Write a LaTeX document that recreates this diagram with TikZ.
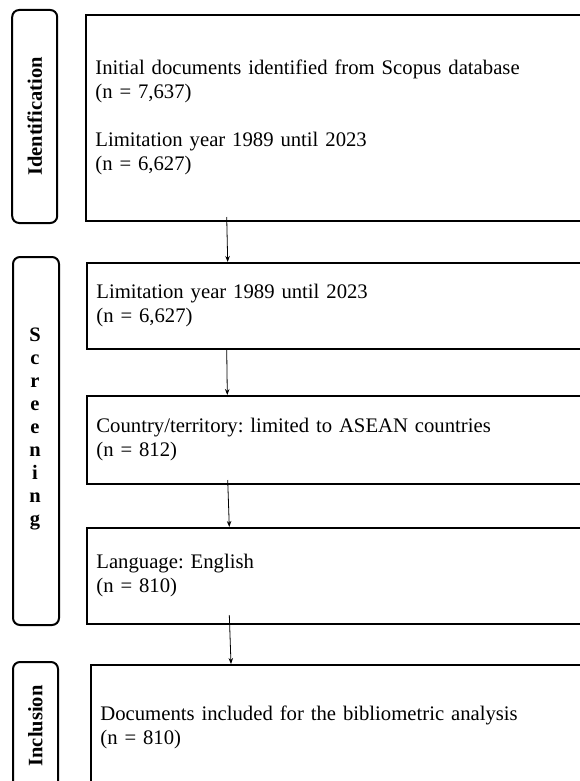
\documentclass[tikz,border=0pt]{standalone}
\usepackage{fontspec}
\setmainfont{Liberation Serif}
\usetikzlibrary{arrows.meta}
\frenchspacing
\begin{document}
\begin{tikzpicture}[x=1pt,y=-1pt,
  box/.style={draw, line width=1.8pt, anchor=north west, inner xsep=9.5pt, inner ysep=0pt,
    align=left, font=\fontsize{20.7}{24}\selectfont},
  phase/.style={draw, line width=2pt, rounded corners=7pt, inner sep=0pt},
  plab/.style={font=\fontsize{20.5}{23}\selectfont\bfseries},
  arr/.style={-{Stealth[length=6pt,width=4.5pt]}, line width=0.8pt}]
\useasboundingbox (0,0) rectangle (580,781);
\clip (0,0) rectangle (580,781);

% phase labels
\node[phase, plab, rotate=90, minimum width=213pt, minimum height=45pt] (p1) at (34.7,116.5) {Identification};
\node[phase, minimum width=46pt, minimum height=368pt, anchor=north west] (p2) at (12,256) {};
\node[plab, align=center, inner sep=0pt] (p2t) at (35,428.5) {S\\c\\r\\e\\e\\n\\i\\n\\g};
\node[phase, plab, rotate=90, minimum width=128pt, minimum height=45pt] (p3) at (35.5,726) {Inclusion};

% boxes
\node[box, minimum width=520pt, text width=501pt, minimum height=206pt] (b1) at (85,14)
  {Initial documents identified from Scopus database\\(n = 7,637)\\[24pt]Limitation year 1989 until 2023\\(n = 6,627)};
\node[box, minimum width=519pt, text width=500pt, minimum height=86pt] (b2) at (86,262)
  {Limitation year 1989 until 2023\\(n = 6,627)};
\node[box, minimum width=519pt, text width=500pt, minimum height=88pt] (b3) at (86,395)
  {Country/territory: limited to ASEAN countries\\(n = 812)};
\node[box, minimum width=519pt, text width=500pt, minimum height=96pt] (b4) at (86,527)
  {Language: English\\(n = 810)};
\node[box, minimum width=515pt, text width=496pt, minimum height=126pt] (b5) at (90,664)
  {Documents included for the bibliometric analysis\\(n = 810)};

% connectors
\coordinate (s1) at (226.7,217);
\coordinate (s2) at (226.7,349);
\coordinate (s3) at (227.7,480);
\coordinate (s4) at (229.3,615);
\draw[arr] (s1) -- ([xshift=141.7pt]b2.north west);
\draw[arr] (s2) -- ([xshift=141.3pt]b3.north west);
\draw[arr] (s3) -- ([xshift=143.3pt]b4.north west);
\draw[arr] (s4) -- ([xshift=141pt]b5.north west);
\end{tikzpicture}
\end{document}
